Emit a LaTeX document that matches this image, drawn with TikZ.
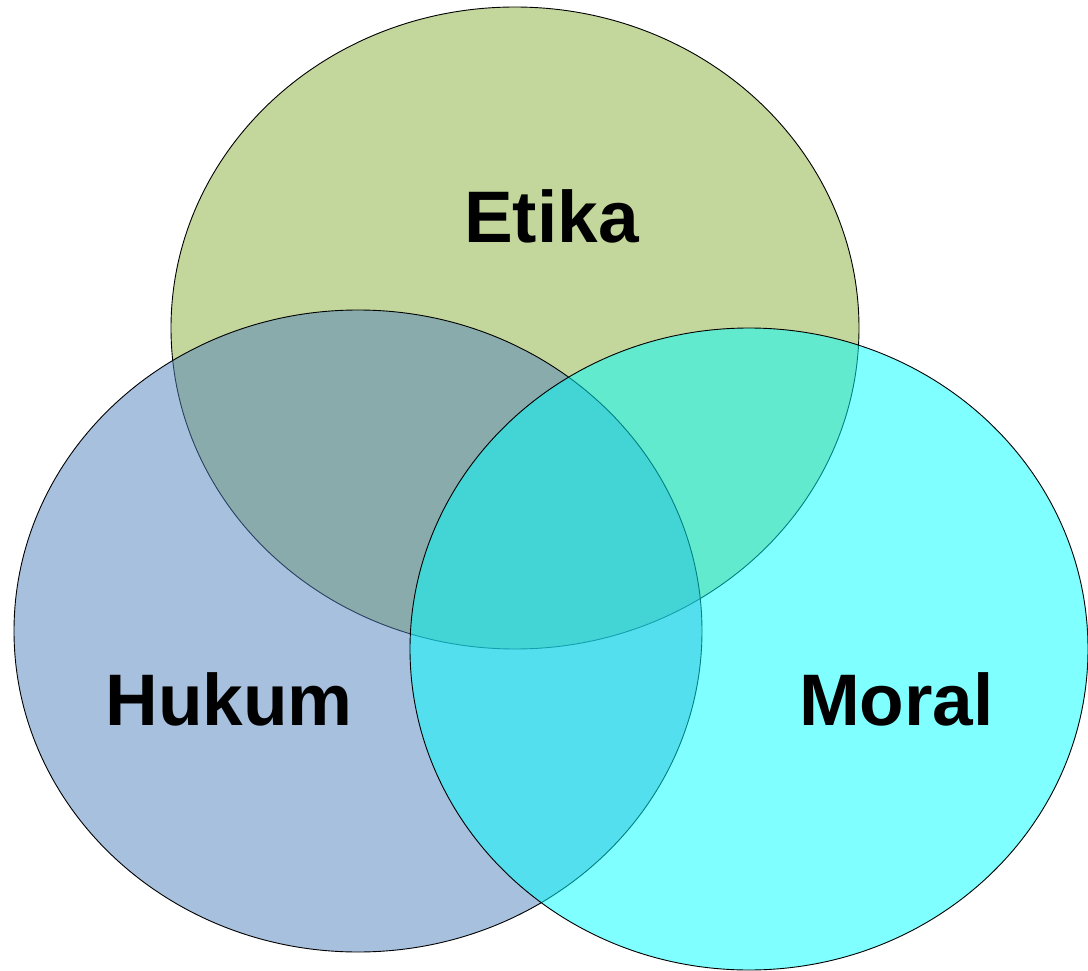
\documentclass[tikz,border=0pt]{standalone}
\usepackage{fontspec}
\setmainfont{Liberation Sans}
\definecolor{etikagreen}{HTML}{9BBB59}
\definecolor{hukumblue}{HTML}{4F81BD}
\definecolor{moralcyan}{HTML}{00FFFF}
\begin{document}
\begin{tikzpicture}[x=1pt, y=-1pt, line join=round, line cap=round,
    set/.style={draw=black, line width=0.9pt},
    setlabel/.style={anchor=base, inner sep=0pt, font=\fontsize{73}{88}\selectfont\bfseries}]
    \useasboundingbox (0,0) rectangle (1088,971);
    \path
    (515,328) coordinate (E)
    (358,631) coordinate (H)
    (749,649) coordinate (M)
    ;
    \filldraw[set, fill=etikagreen, fill opacity=0.6] (E) ellipse [x radius=344pt, y radius=321pt];
    \filldraw[set, fill=hukumblue, fill opacity=0.5] (H) ellipse [x radius=344pt, y radius=321pt];
    \filldraw[set, fill=moralcyan, fill opacity=0.5] (M) ellipse [x radius=339pt, y radius=321pt];
    \node[setlabel] (etika) at (551.5,243) {Etika};
    \node[setlabel] (hukum) at (229,725) {Hukum};
    \node[setlabel] (moral) at (896.5,725) {Moral};
\end{tikzpicture}
\end{document}
